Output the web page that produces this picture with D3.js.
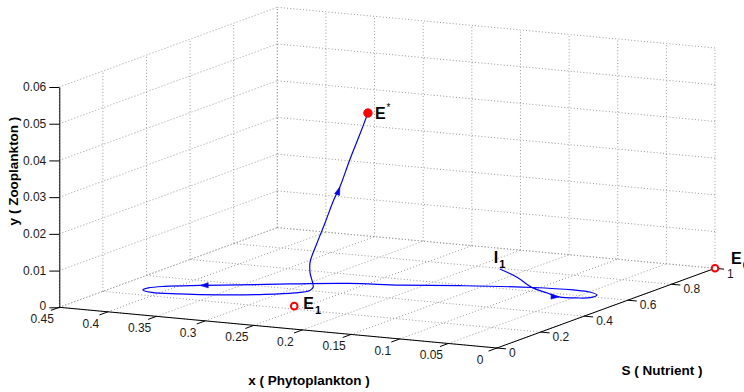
<!DOCTYPE html>
<html><head><meta charset="utf-8">
<script src="https://cdn.jsdelivr.net/npm/d3@7"></script>
<style>
body{margin:0;background:#fff;}
text{font-family:Arial,"Liberation Sans",Helvetica,sans-serif;}
</style></head>
<body><svg id="c" width="744" height="392"></svg>
<script>
// ---- data ----
const xTicks = [0,0.05,0.1,0.15,0.2,0.25,0.3,0.35,0.4,0.45];
const xTickLabels = ["0","0.05","0.1","0.15","0.2","0.25","0.3","0.35","0.4","0.45"];
const sTicks = [0,0.2,0.4,0.6,0.8,1];
const sTickLabels = ["0","0.2","0.4","0.6","0.8","1"];
const yTicks = [0,0.01,0.02,0.03,0.04,0.05,0.06];
const yTickLabels = ["0","0.01","0.02","0.03","0.04","0.05","0.06"];

// trajectory from I1 to E*  (x = phytoplankton, S = nutrient, y = zooplankton)
const trajX = [0.109,0.102,0.089,0.074,0.057,0.041,0.030,0.031,0.044,0.061,0.098,0.160,0.208,0.250,0.297,0.336,0.367,0.394,0.404,0.404,0.391,0.365,0.330,0.294,0.273,0.266,0.271,0.280,0.280,0.276,0.273,0.260,0.251,0.246,0.240,0.221];
const trajS = [0.499,0.545,0.561,0.560,0.539,0.549,0.568,0.597,0.621,0.622,0.602,0.545,0.485,0.434,0.375,0.318,0.276,0.234,0.203,0.178,0.161,0.172,0.200,0.246,0.289,0.328,0.366,0.392,0.392,0.406,0.429,0.411,0.399,0.422,0.444,0.394];
const trajY = [0.008,0.005,0.002,0.001,0.0008,0.0007,0.0007,0.0007,0.0007,0.0008,0.001,0.0012,0.0015,0.002,0.002,0.002,0.002,0.002,0.002,0.002,0.002,0.002,0.002,0.002,0.002,0.002,0.002,0.005,0.008,0.013,0.018,0.025,0.029,0.036,0.043,0.050];
const arrowAt = [4,16,32];

const eqNames = ["E*","E1","E0"];
const eqX = [0.221,0.260,0];
const eqS = [0.394,0.230,1];
const eqY = [0.050,0,0];
const eqFilled = [true,false,false];

const labelI1 = {x:0.109,S:0.499,y:0.008};

// ---- projection through scales ----
const ox = 497, oy = 348;
const xPx = d3.scaleLinear().domain([0,0.45]).range([0,-437.7]);
const xPy = d3.scaleLinear().domain([0,0.45]).range([0,-40.7]);
const sPx = d3.scaleLinear().domain([0,1]).range([0,218]);
const sPy = d3.scaleLinear().domain([0,1]).range([0,-79.7]);
const yPy = d3.scaleLinear().domain([0,0.06]).range([0,-220.3]);
function P(x,s,y){ return [ox + xPx(x) + sPx(s), oy + xPy(x) + sPy(s) + yPy(y)]; }

const svg = d3.select("#c");
const gridColor = "#9a9a9a";
const g = svg.append("g");

function seg(a,b){
  g.append("line").attr("x1",a[0]).attr("y1",a[1]).attr("x2",b[0]).attr("y2",b[1])
   .attr("stroke",gridColor).attr("stroke-width",1).attr("stroke-dasharray","1 2.2");
}
// floor
xTicks.forEach(t=>seg(P(t,0,0),P(t,1,0)));
sTicks.forEach(t=>seg(P(0,t,0),P(0.45,t,0)));
// back wall (S=1)
xTicks.forEach(t=>seg(P(t,1,0),P(t,1,0.06)));
yTicks.forEach(t=>seg(P(0,1,t),P(0.45,1,t)));
// left wall (x=0.45)
sTicks.forEach(t=>seg(P(0.45,t,0),P(0.45,t,0.06)));
yTicks.forEach(t=>seg(P(0.45,0,t),P(0.45,1,t)));

// axes
const axG = svg.append("g");
function solid(a,b){
  axG.append("line").attr("x1",a[0]).attr("y1",a[1]).attr("x2",b[0]).attr("y2",b[1])
    .attr("stroke","#000").attr("stroke-width",1);
}
solid(P(0,0,0),P(0.45,0,0));
solid(P(0,0,0),P(0,1,0));

// x ticks (direction -S)
const xtd = [-0.939*9, 0.343*9];
xTicks.forEach((t,i)=>{
  const p = P(t,0,0);
  solid(p,[p[0]+xtd[0],p[1]+xtd[1]]);
  axG.append("text").attr("x",p[0]-17).attr("y",p[1]+11.5).attr("dy","0.35em")
    .attr("text-anchor","middle").attr("font-size",12).attr("fill","#1a1a1a").text(xTickLabels[i]);
});
// S ticks (direction -x)
const std = [0.996*9, 0.093*9];
sTicks.forEach((t,i)=>{
  const p = P(0,t,0);
  solid(p,[p[0]+std[0],p[1]+std[1]]);
  axG.append("text").attr("x",p[0]+12).attr("y",p[1]+5).attr("dy","0.35em")
    .attr("text-anchor","start").attr("font-size",12).attr("fill","#1a1a1a").text(sTickLabels[i]);
});
// vertical axis with d3.axisLeft
const base = P(0.45,0,0);
const zScale = d3.scaleLinear().domain([0,0.06]).range([base[1], base[1]+yPy(0.06)]);
const zAxis = d3.axisLeft(zScale).tickValues(yTicks).tickFormat((d,i)=>yTickLabels[i])
  .tickSize(10).tickSizeOuter(0).tickPadding(3);
const zg = svg.append("g").attr("transform",`translate(${base[0]},0)`).call(zAxis);
zg.selectAll("text").attr("font-size",12).attr("fill","#1a1a1a").attr("font-family","Arial,'Liberation Sans',sans-serif");
zg.selectAll("line").attr("stroke","#000");
zg.select(".domain").attr("stroke","#000");
// lift the bottom "0" label a touch, as in the reference
zg.selectAll(".tick").filter(d=>d===0).select("text").attr("dy","0.2em");

// axis titles
svg.append("text").attr("x",309).attr("y",385).attr("text-anchor","middle")
  .attr("font-size",13.5).attr("font-weight","bold").text("x ( Phytoplankton )");
svg.append("text").attr("x",662).attr("y",375).attr("text-anchor","middle")
  .attr("font-size",13.5).attr("font-weight","bold").text("S ( Nutrient )");
svg.append("text").attr("transform","translate(18,171) rotate(-90)").attr("text-anchor","middle")
  .attr("font-size",13.5).attr("font-weight","bold").text("y ( Zooplankton )");

// trajectory
const pts = trajX.map((x,i)=>P(x,trajS[i],trajY[i]));
const line = d3.line().curve(d3.curveCatmullRom.alpha(0.5));
svg.append("path").attr("d",line(pts)).attr("fill","none").attr("stroke","#0000ff").attr("stroke-width",1.2);

// arrowheads
arrowAt.forEach(i=>{
  const a = pts[i], b = pts[i+1];
  const ang = Math.atan2(b[1]-a[1], b[0]-a[0]);
  const L = 8, Wd = 2.6;
  const tip = a;
  const bx = tip[0]-L*Math.cos(ang), by = tip[1]-L*Math.sin(ang);
  const nx = -Math.sin(ang)*Wd, ny = Math.cos(ang)*Wd;
  svg.append("path").attr("d",`M${tip[0]},${tip[1]}L${bx+nx},${by+ny}L${bx-nx},${by-ny}Z`)
    .attr("fill","#0000ff").attr("stroke","#0000ff").attr("stroke-width",0.6);
});

// equilibria markers
eqNames.forEach((n,i)=>{
  const p = P(eqX[i],eqS[i],eqY[i]);
  svg.append("circle").attr("cx",p[0]).attr("cy",p[1]).attr("r",eqFilled[i]?4.2:3.3)
    .attr("fill",eqFilled[i]?"#ff0000":"#fff").attr("stroke","#ff0000").attr("stroke-width",eqFilled[i]?1:2);
});

// labels
function lbl(x,y,main,sub,sup){
  const t = svg.append("text").attr("x",x).attr("y",y).attr("font-size",16).attr("font-weight","bold").attr("fill","#000");
  t.append("tspan").text(main);
  if(sub) t.append("tspan").attr("font-size",11).attr("dy",5).attr("dx",1).text(sub);
  if(sup) t.append("tspan").attr("font-size",10).attr("dy",-8).attr("dx",1).attr("font-weight","normal").text(sup);
}
const pE = P(eqX[0],eqS[0],eqY[0]);
lbl(pE[0]+7,pE[1]+6,"E",null,"*");
const p1 = P(eqX[1],eqS[1],eqY[1]);
lbl(p1[0]+9,p1[1]+3,"E","1");
const p0 = P(eqX[2],eqS[2],eqY[2]);
lbl(p0[0]+16,p0[1]-4,"E","0");
const pI = P(labelI1.x,labelI1.S,labelI1.y);
lbl(pI[0]-6,pI[1]-6,"I","1");
</script></body></html>
